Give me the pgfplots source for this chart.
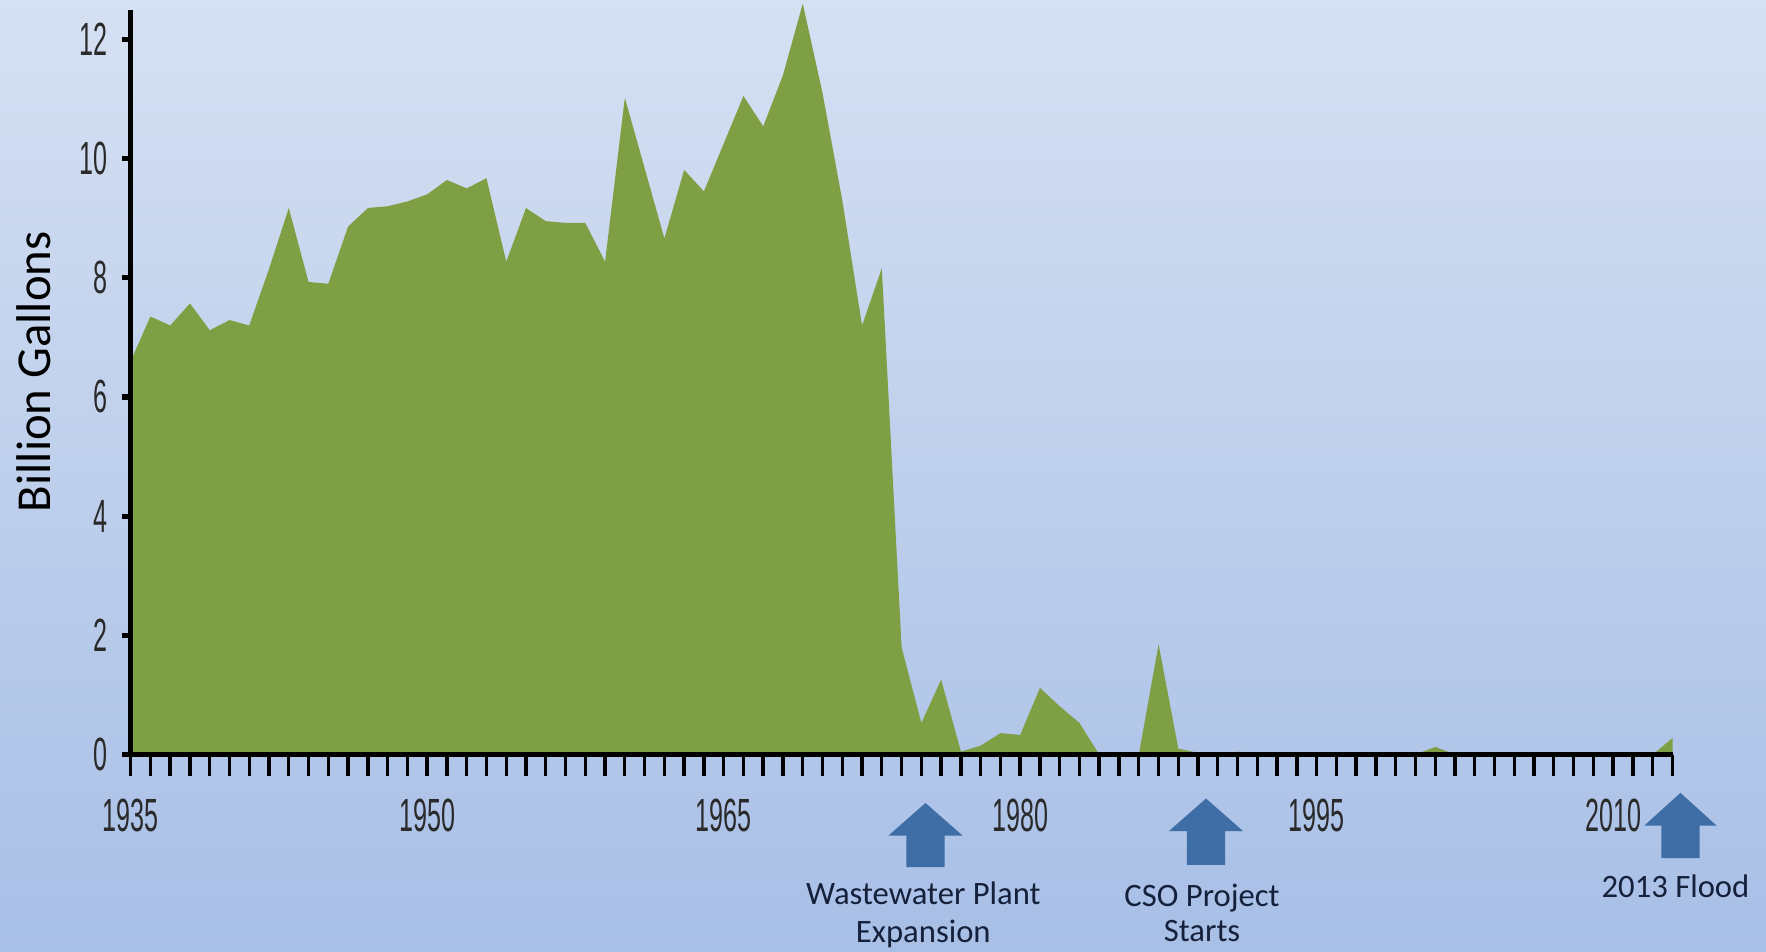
\documentclass[border=0pt]{standalone}
\usepackage{fontspec}
\setmainfont{Carlito}
\newfontfamily\ticknarrow[FakeStretch=0.54]{Liberation Sans}
\usepackage{pgfplots}
\pgfplotsset{compat=1.18}

\definecolor{bgtop}{HTML}{D5E0F2}
\definecolor{bgbot}{HTML}{A8BFE6}
\definecolor{areagreen}{HTML}{7F9F44}
\definecolor{arrowblue}{HTML}{3E6EA5}
\definecolor{notetext}{HTML}{15203A}
\definecolor{ticktext}{HTML}{2A2A2A}

% yearly volume, billion gallons
\pgfplotstableread{
year value
1935 6.6
1936 7.35
1937 7.2
1938 7.57
1939 7.12
1940 7.29
1941 7.2
1942 8.15
1943 9.17
1944 7.93
1945 7.9
1946 8.86
1947 9.17
1948 9.2
1949 9.28
1950 9.4
1951 9.64
1952 9.5
1953 9.67
1954 8.27
1955 9.17
1956 8.95
1957 8.92
1958 8.92
1959 8.27
1960 11.02
1961 9.84
1962 8.66
1963 9.81
1964 9.45
1965 10.25
1966 11.05
1967 10.54
1968 11.4
1969 12.6
1970 11.1
1971 9.3
1972 7.2
1973 8.16
1974 1.8
1975 0.53
1976 1.26
1977 0.05
1978 0.15
1979 0.36
1980 0.33
1981 1.12
1982 0.81
1983 0.53
1984 0.0
1985 0.0
1986 0.0
1987 1.85
1988 0.1
1989 0.03
1990 0.0
1991 0.05
1992 0.0
1993 0.0
1994 0.0
1995 0.0
1996 0.0
1997 0.0
1998 0.0
1999 0.0
2000 0.0
2001 0.13
2002 0.0
2003 0.0
2004 0.04
2005 0.0
2006 0.0
2007 0.0
2008 0.04
2009 0.0
2010 0.0
2011 0.0
2012 0.0
2013 0.28
}\flowdata

\begin{document}
\begin{tikzpicture}
\shade[top color=bgtop, bottom color=bgbot] (-34.8pt,-52.5pt) rectangle (435.6pt,201pt);
\begin{axis}[
  at={(0,0)}, anchor=south west,
  scale only axis, width=410.7pt, height=198.45pt,
  xmin=1935, xmax=2013, ymin=0, ymax=12.5,
  axis lines*=left,
  axis line style={line width=1.5pt, black},
  axis on top,
  clip=false,
  xtick={1935,1950,...,2010},
  minor xtick={1936,...,2013},
  ytick={0,2,...,12},
  tick align=outside,
  major tick length=5.6pt, minor tick length=5.6pt,
  xtick style={black, line width=0.9pt},
  minor tick style={black, line width=0.9pt},
  ytick style={black, line width=1.4pt, /pgfplots/major tick length=2.4pt},
  /pgf/number format/assume math mode=true,
  xticklabel style={font=\ticknarrow\fontsize{12.4}{14}\selectfont, text=ticktext, inner sep=0pt, anchor=north},
  yticklabel style={font=\ticknarrow\fontsize{12.4}{14}\selectfont, text=ticktext, inner sep=0pt, anchor=east},
  xticklabel shift=6pt,
  yticklabel shift=0.3pt,
  /pgf/number format/1000 sep={},
  ylabel={Billion Gallons},
  every axis y label/.style={at={(axis description cs:0,0.514)}, xshift=-25.8pt, rotate=90, anchor=center, font=\fontsize{13}{15}\selectfont},
]
\addplot[fill=areagreen, draw=none] table[x=year, y=value]{\flowdata} \closedcycle;

\coordinate (ww) at (axis cs:1975.21,0);
\coordinate (cso) at (axis cs:1989.40,0);
\coordinate (fl) at (axis cs:2013.40,0);

\node[font=\fontsize{8.7}{10.2}\selectfont, align=center, text=notetext] at ([yshift=-42.6pt]axis cs:1975.1,0) {Wastewater Plant\\Expansion};
\node[font=\fontsize{8.7}{9.4}\selectfont, align=center, text=notetext] at ([yshift=-42.1pt]axis cs:1989.2,0) {CSO Project\\Starts};
\node[font=\fontsize{8.7}{10.2}\selectfont, text=notetext] at ([yshift=-35.1pt]axis cs:2013.15,0) {2013 Flood};
\end{axis}

\fill[arrowblue, shift={(ww)}] (-5.1pt,-30pt) -- (-5.1pt,-21.6pt) -- (-9.9pt,-21.6pt) -- (0,-12.9pt) -- (9.9pt,-21.6pt) -- (5.1pt,-21.6pt) -- (5.1pt,-30pt) -- cycle;
\fill[arrowblue, shift={(cso)}] (-5.1pt,-29.4pt) -- (-5.1pt,-20.4pt) -- (-9.9pt,-20.4pt) -- (0,-11.7pt) -- (9.9pt,-20.4pt) -- (5.1pt,-20.4pt) -- (5.1pt,-29.4pt) -- cycle;
\fill[arrowblue, shift={(fl)}] (-5.1pt,-27.6pt) -- (-5.1pt,-18.9pt) -- (-9.6pt,-18.9pt) -- (0,-10.2pt) -- (9.6pt,-18.9pt) -- (5.1pt,-18.9pt) -- (5.1pt,-27.6pt) -- cycle;

\pgfresetboundingbox
\useasboundingbox (-34.8pt,-52.5pt) rectangle (435.6pt,201pt);
\end{tikzpicture}
\end{document}
